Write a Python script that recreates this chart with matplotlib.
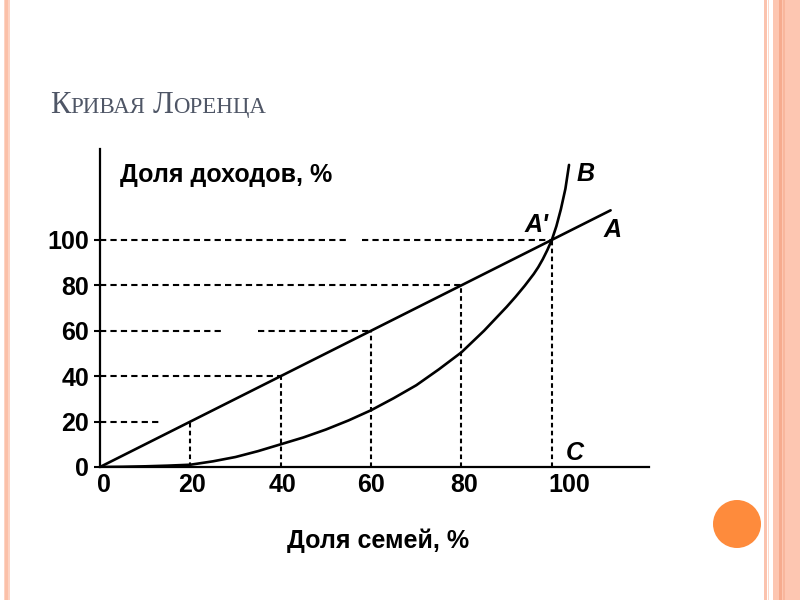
import matplotlib
matplotlib.use('Agg')
import matplotlib.pyplot as plt
import matplotlib.transforms as mtransforms
from matplotlib.patches import Rectangle, Circle

plt.rcParams['font.family'] = ['Liberation Sans', 'DejaVu Sans']

# chart data
ticks = [0, 20, 40, 60, 80, 100]
tick_labels = ['0', '20', '40', '60', '80', '100']

# line A: absolute equality
equal_x = [0, 113]
equal_y = [0, 113]

# curve B: Lorenz curve
lorenz_x = [0, 5, 10, 15, 20, 25, 30, 35, 40, 45, 50, 55, 60, 65, 70, 75, 80,
            85, 90, 92, 94, 96, 97, 98, 99, 100, 101, 102, 103, 103.8]
lorenz_y = [0, 0.1, 0.3, 0.6, 1, 2.5, 4.4, 7, 10, 13, 16.5, 20.5, 25, 30.3, 36,
            43, 50.5, 60, 70.5, 75, 79.8, 85, 88, 91.5, 95.5, 100, 106, 113.5,
            122.5, 133]

# dashed helper lines
vert_x = [20, 40, 60, 80, 100]
vert_top = [20, 40, 60, 80, 100]
horiz_y = [20, 40, 60, 60, 80, 100, 100]
horiz_from = [0, 0, 0, 35, 0, 0, 58]
horiz_to = [13.5, 40, 27, 60, 80, 55, 100]

TITLE_COLOR = '#4f5666'
FS = 18

fig = plt.figure(figsize=(8, 6), dpi=100)

# slide decorations in pixel coordinates
bg = fig.add_axes([0, 0, 1, 1])
bg.set_xlim(0, 800)
bg.set_ylim(600, 0)
bg.axis('off')
bg.add_patch(Rectangle((3.5, 0), 6, 600, color='#fdd3c3', lw=0))
bg.add_patch(Rectangle((5, 0), 3, 600, color='#fbc0a8', lw=0))
bg.add_patch(Rectangle((764, 0), 2.5, 600, color='#fbc3ae', lw=0))
bg.add_patch(Rectangle((767.5, 0), 1.5, 600, color='#fdd8ca', lw=0))
bg.add_patch(Rectangle((773, 0), 27, 600, color='#fdc6b1', lw=0))
bg.add_patch(Rectangle((779, 0), 2.5, 600, color='#f6ab8e', lw=0))
bg.add_patch(Rectangle((783, 0), 1.5, 600, color='#f8b69c', lw=0))
bg.add_patch(Circle((737, 524), 24, color='#fe8b3c', lw=0))

# small-caps title built from pieces
pieces = [('К', 22, 0), ('РИВАЯ', 16.5, 7), ('Л', 22, 0), ('ОРЕНЦА', 16.5, 0)]
renderer = fig.canvas.get_renderer()
x_px = 50
for txt, size, gap in pieces:
    t = fig.text(x_px / 800, (600 - 113) / 600, txt, fontsize=size,
                 family='Liberation Serif', color=TITLE_COLOR, va='baseline')
    x_px += t.get_window_extent(renderer).width + gap

# chart
ax = fig.add_axes([100 / 800, 133 / 600, 549 / 800, 318 / 600])
ax.set_facecolor('none')
ax.set_xlim(0, 121.5)
ax.set_ylim(0, 140)
for s in ['top', 'right']:
    ax.spines[s].set_visible(False)
for s in ['left', 'bottom']:
    ax.spines[s].set_linewidth(1.6)

for x, top in zip(vert_x, vert_top):
    ax.plot([x, x], [0, top], color='black', lw=1.5, dashes=(2.2, 1.6))
for y, x0, x1 in zip(horiz_y, horiz_from, horiz_to):
    ax.plot([x0, x1], [y, y], color='black', lw=1.5, dashes=(3, 2))

ax.plot(equal_x, equal_y, color='black', lw=1.9, solid_capstyle='round')
ax.plot(lorenz_x, lorenz_y, color='black', lw=1.9, solid_capstyle='round',
        solid_joinstyle='round')

ax.set_yticks(ticks)
ax.set_yticklabels(tick_labels, fontsize=FS, fontweight='bold')
ax.set_xticks(ticks)
ax.set_xticklabels(tick_labels, fontsize=FS, fontweight='bold')
ax.tick_params(axis='y', length=4, width=1.5, pad=4)
ax.tick_params(axis='x', length=0, pad=4)
shifts = [4, 2, 2, 0, 3, 17]
for lab, dx in zip(ax.get_xticklabels(), shifts):
    lab.set_transform(lab.get_transform() +
                      mtransforms.ScaledTranslation(dx / 100, 0, fig.dpi_scale_trans))

ax.text(4.4, 128.5, 'Доля доходов, %', fontsize=FS, fontweight='bold',
        va='center', ha='left')
ax.text(61.5, -32.5, 'Доля семей, %', fontsize=FS, fontweight='bold',
        va='center', ha='center', clip_on=False)

lab_kw = dict(fontsize=FS, style='italic', fontweight='bold', ha='center', va='center')
ax.text(107.5, 129, 'B', **lab_kw)
ax.text(113.5, 104.5, 'A', **lab_kw)
ax.text(96.5, 106.5, "A'", **lab_kw)
ax.text(105, 6, 'C', **lab_kw)

fig.savefig('out.png', dpi=100)
